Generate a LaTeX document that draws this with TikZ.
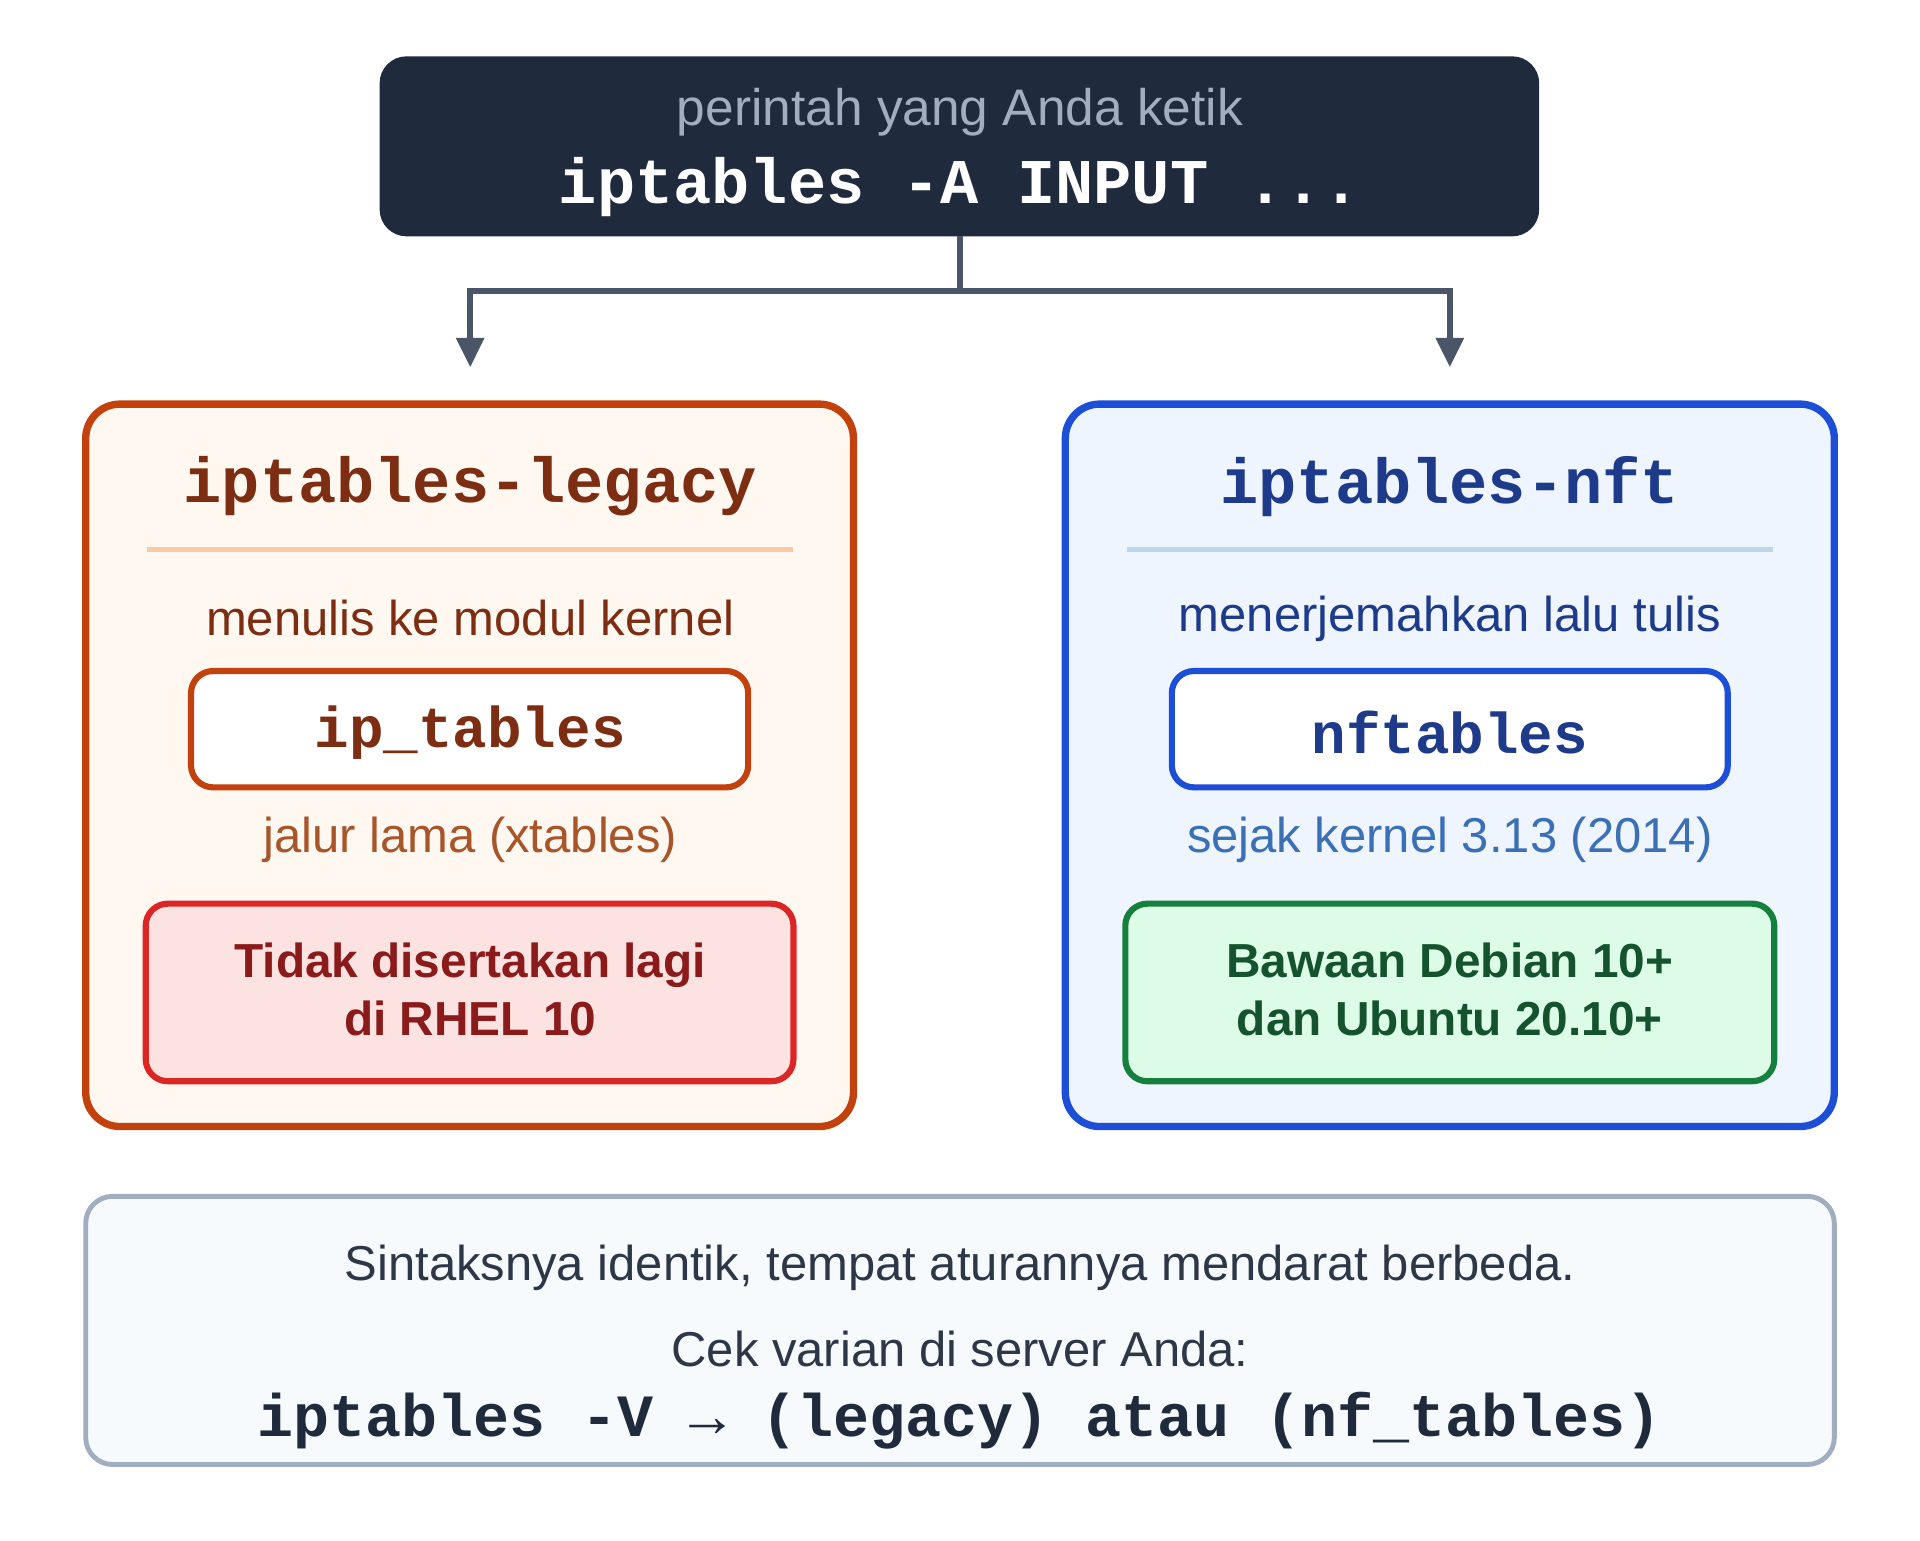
\documentclass[tikz,border=0pt]{standalone}
\usepackage{fontspec}
\setmainfont{Liberation Sans}
\setmonofont{Liberation Mono}
\usetikzlibrary{arrows.meta}
\definecolor{dark}{HTML}{1F2A3C}
\definecolor{conn}{HTML}{4A5568}
\definecolor{lstroke}{HTML}{C2410C}
\definecolor{lfill}{HTML}{FFF8F1}
\definecolor{ltext}{HTML}{7C2D12}
\definecolor{lline}{HTML}{F5CBA7}
\definecolor{lsub}{HTML}{A8552A}
\definecolor{rstroke}{HTML}{1D4ED8}
\definecolor{rfill}{HTML}{EEF5FF}
\definecolor{rtext}{HTML}{1E3A8A}
\definecolor{rline}{HTML}{BFD6F0}
\definecolor{rsub}{HTML}{3B6FB6}
\definecolor{redfill}{HTML}{FDE2E2}
\definecolor{redstroke}{HTML}{DC2626}
\definecolor{redtext}{HTML}{8B1A1A}
\definecolor{gfill}{HTML}{DCFCE7}
\definecolor{gstroke}{HTML}{15803D}
\definecolor{gtext}{HTML}{14532D}
\definecolor{bfill}{HTML}{F7FAFC}
\definecolor{bstroke}{HTML}{A0AEC0}
\definecolor{btext}{HTML}{2D3748}
\begin{document}
\begin{tikzpicture}[x=1pt,y=-1pt,
  box/.style={rounded corners=28pt,line width=6pt},
  inner/.style={rounded corners=18pt,line width=5pt},
  txt/.style={font=\fontsize{40}{48}\selectfont,anchor=center},
  mono/.style={font=\fontsize{52}{60}\selectfont\ttfamily\bfseries,anchor=center},
  bold/.style={font=\fontsize{39}{48}\selectfont\bfseries,anchor=center}]
\useasboundingbox (0,0) rectangle (1568,1258);
% top
\fill[dark,rounded corners=22pt] (310,46) rectangle (1257,193);
\node (top) at (784,120) {};
\node[txt,text=bstroke,font=\fontsize{42}{50}\selectfont] (t1) at (784,92) {perintah yang Anda ketik};
\node[mono,text=white] (t2) at (784,153) {iptables -A INPUT ...};
% connectors
\coordinate (c0) at (784,193);
\coordinate (c1) at (784,238);
\coordinate (la) at (384,300);
\coordinate (ra) at (1184,300);
\draw[conn,line width=5pt] (c0)--(c1);
\draw[conn,line width=5pt,-{Triangle[width=22pt,length=24pt]}] (c1)-|(la);
\draw[conn,line width=5pt,-{Triangle[width=22pt,length=24pt]}] (c1)-|(ra);
% left
\draw[box,draw=lstroke,fill=lfill] (70,330) rectangle (697,920);
\node[mono,text=ltext] (lt) at (384,397) {iptables-legacy};
\draw[lline,line width=4pt] (120,449)--(648,449);
\node[txt,text=ltext] (l1) at (384,505) {menulis ke modul kernel};
\draw[inner,draw=lstroke,fill=white] (156,548) rectangle (611,643);
\node[mono,text=ltext,font=\fontsize{47}{55}\selectfont\ttfamily\bfseries] (l2) at (384,598) {ip\_tables};
\node[txt,text=lsub] (l3) at (384,686) {jalur lama (xtables)};
\draw[inner,draw=redstroke,fill=redfill] (119,738) rectangle (648,883);
\node[bold,text=redtext,align=center] (l4) at (384,808) {Tidak disertakan lagi\\di RHEL 10};
% right
\draw[box,draw=rstroke,fill=rfill] (870,330) rectangle (1498,920);
\node[mono,text=rtext] (rt) at (1184,397) {iptables-nft};
\draw[rline,line width=4pt] (920,449)--(1448,449);
\node[txt,text=rtext] (r1) at (1184,505) {menerjemahkan lalu tulis};
\draw[inner,draw=rstroke,fill=white] (957,548) rectangle (1411,643);
\node[mono,text=rtext,font=\fontsize{47}{55}\selectfont\ttfamily\bfseries] (r2) at (1184,598) {nftables};
\node[txt,text=rsub] (r3) at (1184,686) {sejak kernel 3.13 (2014)};
\draw[inner,draw=gstroke,fill=gfill] (919,738) rectangle (1449,883);
\node[bold,text=gtext,align=center] (r4) at (1184,808) {Bawaan Debian 10+\\dan Ubuntu 20.10+};
% bottom
\draw[rounded corners=22pt,line width=4pt,draw=bstroke,fill=bfill] (70,977) rectangle (1498,1196);
\node[txt,text=btext] (b1) at (784,1035) {Sintaksnya identik, tempat aturannya mendarat berbeda.};
\node[txt,text=btext] (b2) at (784,1102) {Cek varian di server Anda:};
\node[mono,text=dark,font=\fontsize{49}{55}\selectfont\ttfamily\bfseries] (b3) at (784,1160) {iptables -V → (legacy) atau (nf\_tables)};
\end{tikzpicture}
\end{document}
